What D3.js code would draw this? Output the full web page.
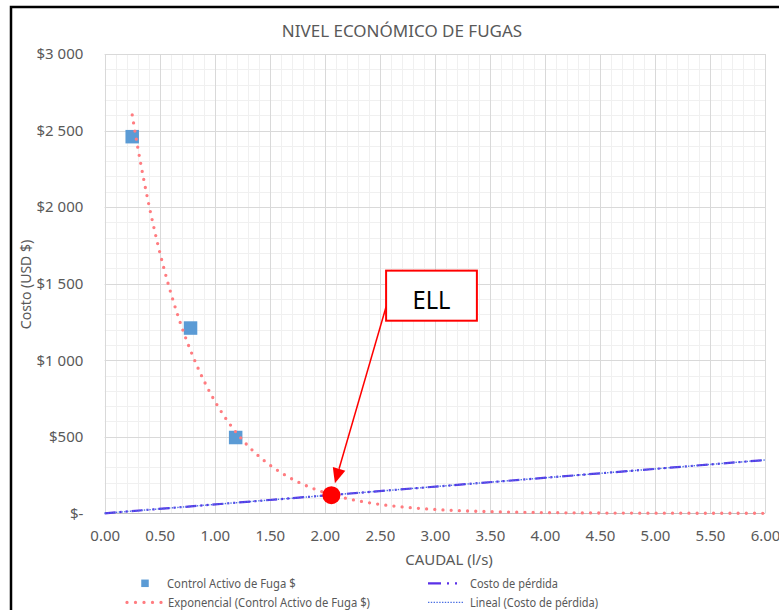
<!DOCTYPE html>
<html><head><meta charset="utf-8">
<script src="https://cdn.jsdelivr.net/npm/d3@7"></script>
<style>
body{margin:0;background:#fff}
svg{display:block}
text{font-family:"Noto Sans",sans-serif}
</style>
</head><body>
<svg id="chart" width="779" height="610"></svg>
<script>
// ---------- data ----------
const chartTitle = "NIVEL ECONÓMICO DE FUGAS";
const xAxisTitle = "CAUDAL (l/s)";
const yAxisTitle = "Costo (USD $)";
const caudalControl = [0.25, 0.78, 1.19];
const costoControl = [2460, 1210, 495];
const caudalPerdida = [0, 6];
const costoPerdida = [0, 348];
const ellPoint = [2.06, 118];
const ellLabel = "ELL";
const xTicks = [0, 0.5, 1, 1.5, 2, 2.5, 3, 3.5, 4, 4.5, 5, 5.5, 6];
const xTickLabels = ["0.00","0.50","1.00","1.50","2.00","2.50","3.00","3.50","4.00","4.50","5.00","5.50","6.00"];
const yTicks = [0, 500, 1000, 1500, 2000, 2500, 3000];
const yTickLabels = ["$-","$500","$1 000","$1 500","$2 000","$2 500","$3 000"];
const legendLabels = ["Control Activo de Fuga $", "Exponencial (Control Activo de Fuga $)", "Costo de pérdida", "Lineal (Costo de pérdida)"];

// ---------- layout ----------
const svg = d3.select("#chart");
const TXT = "#595959";
const x = d3.scaleLinear().domain([0, 6]).range([104.7, 765]);
const y = d3.scaleLinear().domain([0, 3000]).range([513.3, 54]);
const px = v => Math.round(v) + 0.5;

svg.append("rect").attr("width", 779).attr("height", 610).attr("fill", "#fff");

// grid
const g = svg.append("g");
g.selectAll("line.mx").data(d3.range(0, 61).map(i => i / 10)).join("line")
  .attr("x1", d => px(x(d))).attr("x2", d => px(x(d)))
  .attr("y1", y(3000)).attr("y2", y(0))
  .attr("stroke", "#f0f0f0").attr("stroke-width", 1);
g.selectAll("line.my").data(d3.range(0, 31).map(i => i * 100)).join("line")
  .attr("y1", d => px(y(d))).attr("y2", d => px(y(d)))
  .attr("x1", x(0)).attr("x2", x(6))
  .attr("stroke", "#f0f0f0").attr("stroke-width", 1);
g.selectAll("line.Mx").data(xTicks).join("line")
  .attr("x1", d => px(x(d))).attr("x2", d => px(x(d)))
  .attr("y1", y(3000)).attr("y2", y(0))
  .attr("stroke", "#d9d9d9").attr("stroke-width", 1);
g.selectAll("line.My").data(yTicks).join("line")
  .attr("y1", d => px(y(d))).attr("y2", d => px(y(d)))
  .attr("x1", x(0)).attr("x2", x(6))
  .attr("stroke", "#d9d9d9").attr("stroke-width", 1);
g.append("line").attr("x1", x(0)).attr("x2", x(6))
  .attr("y1", px(y(0))).attr("y2", px(y(0))).attr("stroke", "#bfbfbf");

// axes
const xAxis = d3.axisBottom(x).tickValues(xTicks)
  .tickFormat((d, i) => xTickLabels[i]).tickSize(0).tickPadding(17.5);
const ax = svg.append("g").attr("transform", `translate(0,${y(0)})`).call(xAxis);
ax.select(".domain").remove();
ax.selectAll("text").attr("fill", TXT).attr("font-size", 15).attr("font-family", "Noto Sans");

const yAxis = d3.axisLeft(y).tickValues(yTicks)
  .tickFormat((d, i) => yTickLabels[i]).tickSize(0).tickPadding(21.4);
const ay = svg.append("g").attr("transform", `translate(${x(0)},0)`).call(yAxis);
ay.select(".domain").remove();
ay.selectAll("text").attr("fill", TXT).attr("font-size", 15).attr("font-family", "Noto Sans");

// titles
svg.append("text").text(chartTitle).attr("x", 402).attr("y", 36.7)
  .attr("text-anchor", "middle").attr("font-size", 17).attr("fill", TXT);
svg.append("text").text(xAxisTitle).attr("x", 449).attr("y", 564.5)
  .attr("text-anchor", "middle").attr("font-size", 15).attr("fill", TXT);
svg.append("text").text(yAxisTitle)
  .attr("transform", "translate(31,284.5) rotate(-90)")
  .attr("text-anchor", "middle").attr("font-size", 14).attr("fill", TXT);

// series: Costo de pérdida
const line = d3.line().x(d => x(d[0])).y(d => y(d[1]));
const perdida = caudalPerdida.map((c, i) => [c, costoPerdida[i]]);
svg.append("path").datum(perdida).attr("d", line)
  .attr("fill", "none").attr("stroke", "#5a30e8").attr("stroke-width", 2.2)
  .attr("stroke-dasharray", "11 4 2 4 2 4");

// series: Control Activo de Fuga (squares)
const sq = 13.5;
svg.selectAll("rect.ctrl").data(caudalControl.map((c, i) => [c, costoControl[i]])).join("rect")
  .attr("x", d => x(d[0]) - sq / 2).attr("y", d => y(d[1]) - sq / 2)
  .attr("width", sq).attr("height", sq).attr("fill", "#5b9bd5");

// linear trendline (least squares on Costo de pérdida)
const lin = (() => {
  const n = caudalPerdida.length, mx = d3.mean(caudalPerdida), my = d3.mean(costoPerdida);
  let sxy = 0, sxx = 0;
  for (let i = 0; i < n; i++) { sxy += (caudalPerdida[i] - mx) * (costoPerdida[i] - my); sxx += (caudalPerdida[i] - mx) ** 2; }
  const b = sxy / sxx; return { a: my - b * mx, b };
})();
svg.append("path").datum(x.domain().map(v => [v, lin.a + lin.b * v])).attr("d", line)
  .attr("fill", "none").attr("stroke", "#4a6fe3").attr("stroke-width", 1.4)
  .attr("stroke-dasharray", "1.4 1.4");

// exponential trendline (least squares on ln y)
const expo = (() => {
  const ly = costoControl.map(Math.log), mx = d3.mean(caudalControl), my = d3.mean(ly);
  let sxy = 0, sxx = 0;
  caudalControl.forEach((c, i) => { sxy += (c - mx) * (ly[i] - my); sxx += (c - mx) ** 2; });
  const b = sxy / sxx; return { a: Math.exp(my - b * mx), b };
})();
const x0 = d3.min(caudalControl);
const expPts = d3.range(0, 401).map(i => x0 + (6 - x0) * i / 400).map(v => [v, expo.a * Math.exp(expo.b * v)]);
svg.append("path").datum(expPts).attr("d", line)
  .attr("fill", "none").attr("stroke", "#ff7c80").attr("stroke-width", 3.3)
  .attr("stroke-linecap", "round").attr("stroke-dasharray", "0 8.2");

// ELL annotation
const ex = x(ellPoint[0]), ey = y(ellPoint[1]);
const boxL = x(2.557), boxR = x(3.382), boxT = y(1585), boxB = y(1258);
svg.append("rect").attr("x", boxL).attr("y", boxT).attr("width", boxR - boxL).attr("height", boxB - boxT)
  .attr("fill", "#fff").attr("stroke", "#ff0000").attr("stroke-width", 2);
svg.append("text").text(ellLabel).attr("x", (boxL + boxR) / 2).attr("y", boxT + 38.5)
  .attr("text-anchor", "middle").attr("font-size", 25).attr("fill", "#000")
  .attr("textLength", 38).attr("lengthAdjust", "spacingAndGlyphs");
const sx = boxL, sy = y(1349);
const dx = ex - sx, dy = ey - sy, L = Math.hypot(dx, dy), ux = dx / L, uy = dy / L;
const tipX = ex - ux * 12.5, tipY = ey - uy * 12.5;
const hl = 15, hw = 6.5;
const bx = tipX - ux * hl, by = tipY - uy * hl;
svg.append("line").attr("x1", sx).attr("y1", sy).attr("x2", bx).attr("y2", by)
  .attr("stroke", "#ff0000").attr("stroke-width", 1.5);
svg.append("path")
  .attr("d", `M${tipX},${tipY}L${bx - uy * hw},${by + ux * hw}L${bx + uy * hw},${by - ux * hw}Z`)
  .attr("fill", "#ff0000");
svg.append("circle").attr("cx", ex).attr("cy", ey).attr("r", 9).attr("fill", "#ff0000");

// legend
const lg = svg.append("g");
lg.append("rect").attr("x", 145 - 3.75).attr("y", 583.3 - 3.75).attr("width", 7.5).attr("height", 7.5).attr("fill", "#5b9bd5");
lg.append("line").attr("x1", 127).attr("x2", 162).attr("y1", 602.4).attr("y2", 602.4)
  .attr("stroke", "#ff7c80").attr("stroke-width", 3.3).attr("stroke-linecap", "round").attr("stroke-dasharray", "0 8.5");
lg.append("line").attr("x1", 428).attr("x2", 462).attr("y1", 583.3).attr("y2", 583.3)
  .attr("stroke", "#5a30e8").attr("stroke-width", 2.2).attr("stroke-dasharray", "13 6 2 6 2 20");
lg.append("line").attr("x1", 428).attr("x2", 463).attr("y1", 602.4).attr("y2", 602.4)
  .attr("stroke", "#4a6fe3").attr("stroke-width", 1.4).attr("stroke-dasharray", "1.4 1.4");
const legPos = [[167, 588, 128.7], [168, 607.3, 202], [470, 588, 88], [470, 607.3, 128]];
legendLabels.forEach((t, i) => {
  lg.append("text").text(t).attr("x", legPos[i][0]).attr("y", legPos[i][1])
    .attr("font-size", 12).attr("fill", TXT)
    .attr("textLength", legPos[i][2]).attr("lengthAdjust", "spacingAndGlyphs");
});

// outer frame
svg.append("path").attr("d", "M11,610V7H779").attr("fill", "none").attr("stroke", "#000").attr("stroke-width", 2.5);
</script>
</body></html>
